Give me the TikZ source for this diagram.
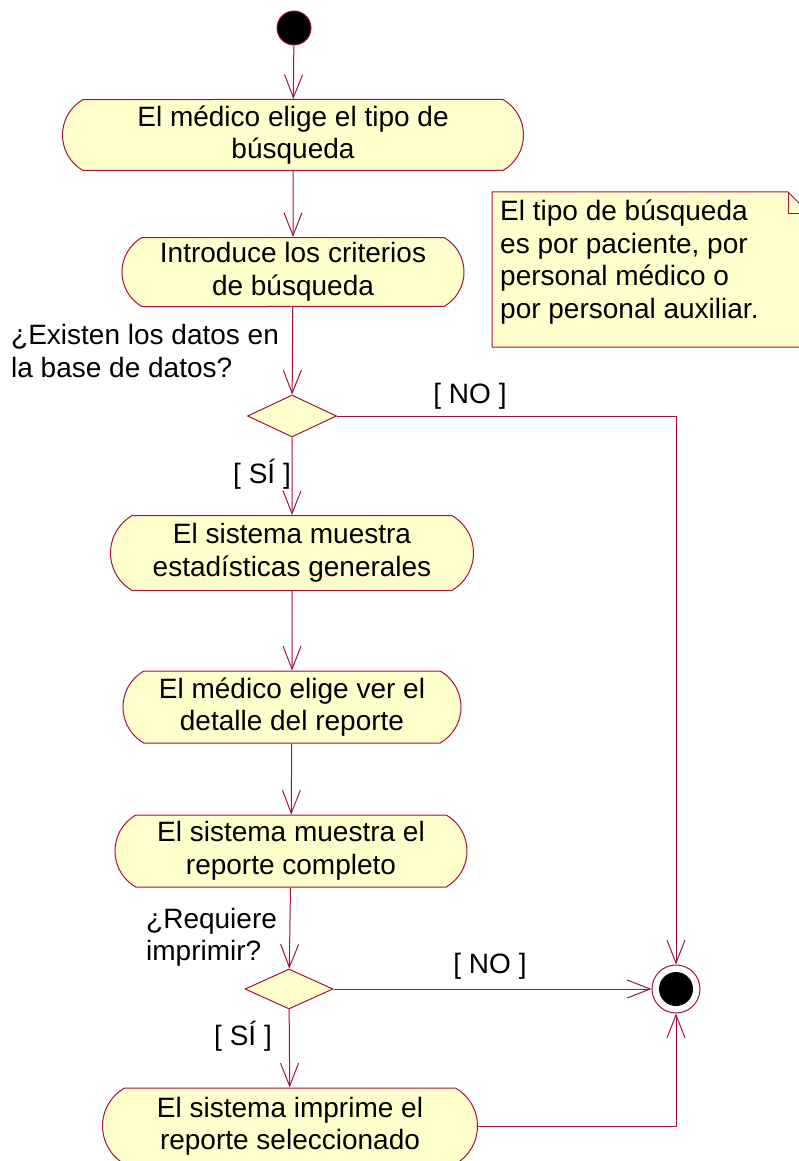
\documentclass[tikz,border=0pt]{standalone}
\usepackage{fontspec}
\setmainfont{Liberation Sans}
\usetikzlibrary{arrows.meta, shapes.misc, shapes.geometric}

\definecolor{umlred}{RGB}{160,20,60}
\definecolor{umlfill}{RGB}{255,255,204}

\tikzset{
    flow/.style={draw=umlred, line width=1pt, -{Straight Barb[length=23pt,width=18pt]}},
    link/.style={draw=umlred, line width=1pt},
    activity/.style={rounded rectangle, rounded rectangle arc length=120,
        draw=umlred, fill=umlfill, line width=1pt, align=center, inner sep=0pt},
    decision/.style={diamond, draw=umlred, fill=umlfill, line width=1pt,
        inner sep=0pt, minimum width=89pt, minimum height=42pt},
    guard/.style={inner sep=0pt}
}

\begin{document}
\begin{tikzpicture}[x=1pt, y=-1pt, font=\fontsize{28}{32.5}\selectfont]

\useasboundingbox (0,0) rectangle (799,1161);

% Start
\node (start) [circle, fill=black, draw=umlred, line width=1pt, minimum size=34pt, inner sep=0pt] at (294,28) {};

% Activities
\node (elige) [activity, minimum width=461pt, minimum height=71pt] at (293,135)
    {El médico elige el tipo de\\búsqueda};
\node (criterios) [activity, minimum width=342pt, minimum height=69pt] at (293,272)
    {Introduce los criterios\\de búsqueda};
\node (existen) [decision] at (292,416) {};
\node (estad) [activity, minimum width=363pt, minimum height=75pt] at (292,553)
    {El sistema muestra\\estadísticas generales};
\node (detalle) [activity, minimum width=338pt, minimum height=72pt] at (292,707)
    {El médico elige ver el\\detalle del reporte};
\node (completo) [activity, minimum width=352pt, minimum height=72pt] at (291,851)
    {El sistema muestra el\\reporte completo};
\node (imprimir) [decision, minimum width=88pt, minimum height=40pt] at (289,989) {};
\node (imprime) [activity, minimum width=375pt, minimum height=76pt] at (290,1126)
    {El sistema imprime el\\reporte seleccionado};

% End
\node (final) [circle, draw=umlred, fill=white, line width=1pt, minimum size=48pt, inner sep=0pt] at (676,989) {};
\fill[black] (final.center) circle[radius=17];

% Note
\draw[link, fill=umlfill] (492,192) -- (788,192) -- (809,213) -- (809,347) -- (492,347) -- cycle;
\draw[link] (788,192) -- (788,213) -- (809,213);
\node (nota) [anchor=north west, align=left, inner sep=0pt] at (500,200)
    {El tipo de búsqueda\\es por paciente, por\\personal médico o\\por personal auxiliar.};

% Labels
\node (qexisten) [guard, anchor=west, align=left] at (11,351) {¿Existen los datos en\\la base de datos?};
\node (noA) [guard] at (470,396) {[ NO ]};
\node (siA) [guard] at (262,474) {[ SÍ ]};
\node (qimprimir) [guard, anchor=west, align=left] at (146,937) {¿Requiere\\imprimir?};
\node (noB) [guard] at (490,966) {[ NO ]};
\node (siB) [guard] at (243,1036) {[ SÍ ]};

% Flows
\draw[flow] (start) -- (elige);
\draw[flow] (elige) -- (criterios);
\draw[flow] (criterios) -- (existen);
\draw[flow] (existen) -- (estad);
\draw[flow] (estad) -- (detalle);
\draw[flow] (detalle) -- (completo);
\draw[flow] (completo) -- (imprimir);
\draw[flow] (imprimir) -- (imprime);
\draw[flow] (existen.east) -| (final.north);
\draw[flow] (imprimir.east) -- (final.west);
\draw[flow] (imprime.east) -| (final.south);

\end{tikzpicture}
\end{document}
